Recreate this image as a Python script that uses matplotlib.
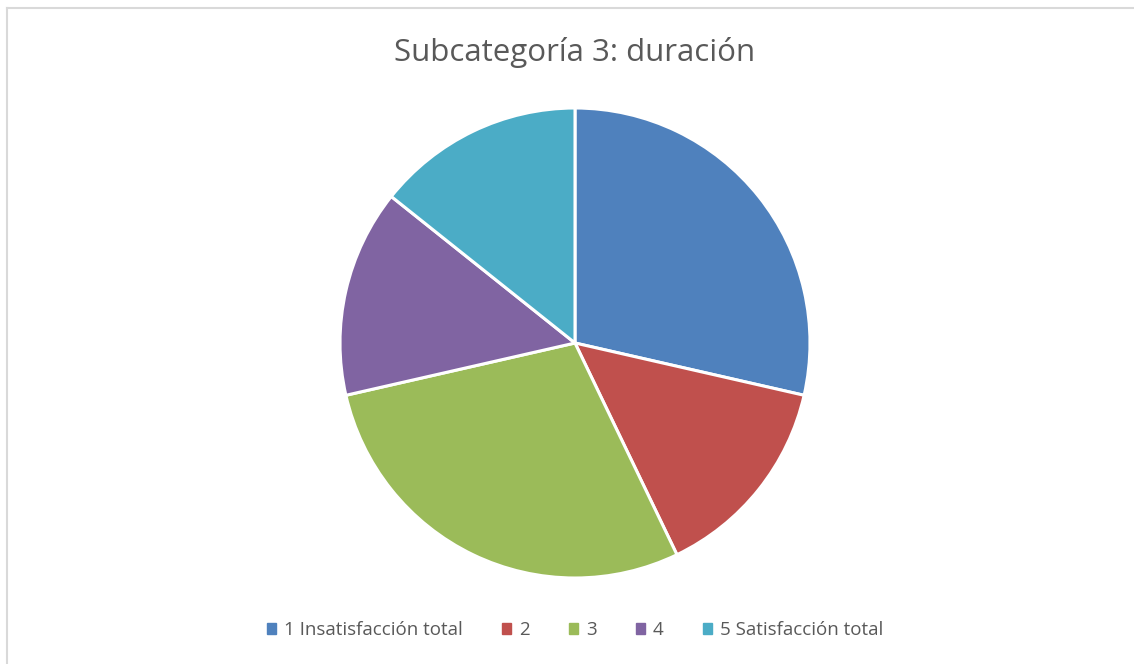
import matplotlib
matplotlib.use("Agg")
import matplotlib.pyplot as plt
from matplotlib.lines import Line2D
from matplotlib.patches import Patch

labels = ["1 Insatisfacción total", "2", "3", "4", "5 Satisfacción total"]
values = [2, 1, 2, 1, 1]
colors = ["#4F81BD", "#C0504D", "#9BBB59", "#8064A2", "#4BACC6"]
title = "Subcategoría 3: duración"

W, H = 1134, 664
fig = plt.figure(figsize=(W / 100, H / 100), dpi=100)
fig.patch.set_facecolor("white")

# chart border (left and top visible)
fig.add_artist(Line2D([7 / W, 7 / W], [0, 1 - 8 / H], color="#D9D9D9", lw=1.5))
fig.add_artist(Line2D([7 / W, 1.0], [1 - 8 / H, 1 - 8 / H], color="#D9D9D9", lw=1.5))

cx, cy, r = 575, 343, 235
ax = fig.add_axes([(cx - r) / W, 1 - (cy + r) / H, 2 * r / W, 2 * r / H])
ax.pie(values, colors=colors, startangle=90, counterclock=False,
       wedgeprops=dict(edgecolor="white", linewidth=2.2))
ax.set_aspect("equal")
ax.set_xlim(-1, 1)
ax.set_ylim(-1, 1)
ax.axis("off")

fig.text(cx / W, 1 - 53 / H, title, ha="center", va="center",
         fontsize=22.5, color="#595959", family="Open Sans")

handles = [Patch(facecolor=c, edgecolor=c) for c in colors]
leg = fig.legend(handles, labels, loc="center", bbox_to_anchor=(cx / W, 1 - 630 / H),
                 ncol=5, frameon=False, handlelength=0.5, handleheight=0.5,
                 handletextpad=0.4, columnspacing=2.1,
                 prop=dict(family="Open Sans", size=13.5))
for t in leg.get_texts():
    t.set_color("#595959")

fig.savefig("out.png", dpi=100, facecolor="white")
